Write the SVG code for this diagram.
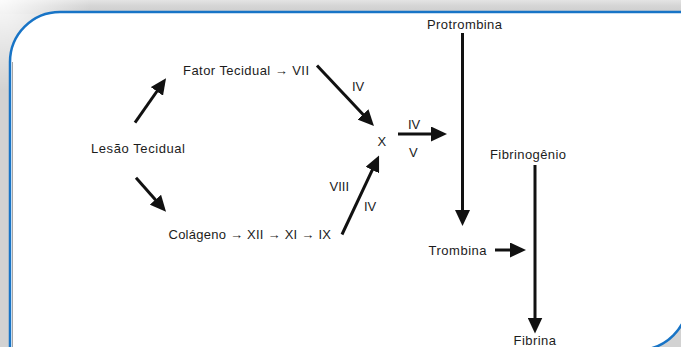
<svg xmlns="http://www.w3.org/2000/svg" width="681" height="347" viewBox="0 0 681 347">
  <style>
    .t { font-family: "Liberation Sans", Arial, sans-serif; font-size: 13px; fill: #1c1c1c; }
    .c { stroke: #111; stroke-width: 3; fill: none; marker-end: url(#ah); }
  </style>
  <defs>
    <marker id="ah" markerUnits="userSpaceOnUse" markerWidth="16" markerHeight="15" refX="6" refY="7.5" orient="auto">
      <path d="M0,0 L16,7.5 L0,15 z" fill="#111"/>
    </marker>
    <linearGradient id="topg" x1="0" y1="0" x2="0" y2="1">
      <stop offset="0" stop-color="#e4e4e4"/>
      <stop offset="0.4" stop-color="#d6d6d6"/>
      <stop offset="1" stop-color="#cbcbcb"/>
    </linearGradient>
    <radialGradient id="corner" cx="0" cy="0" r="90" gradientUnits="userSpaceOnUse">
      <stop offset="0" stop-color="#ffffff" stop-opacity="0.9"/>
      <stop offset="1" stop-color="#ffffff" stop-opacity="0"/>
    </radialGradient>
  </defs>

  <!-- frame -->
  <g id="frame">
    <rect x="0" y="0" width="681" height="347" fill="#d2d2d2"/>
    <rect x="0" y="0" width="681" height="14" fill="url(#topg)"/>
    <rect x="0" y="0" width="681" height="347" fill="url(#corner)"/>
    <path d="M10,360 V62 A50,50 0 0 1 60,12 H688 V300 A50,50 0 0 1 638,350 H10 Z" fill="#ffffff" stroke="#1874c6" stroke-width="2.5"/>
    <path d="M12.5,62 V347" stroke="#4a4a4a" stroke-width="1" opacity="0.5" fill="none"/>
  </g>

  <!-- connectors -->
  <g id="connectors">
    <line class="c" x1="135" y1="122.7" x2="160.3" y2="86.5"/>
    <line class="c" x1="136" y1="177.7" x2="159.4" y2="204.2"/>
    <line class="c" x1="317" y1="65.5" x2="367.1" y2="118.7"/>
    <line class="c" x1="342" y1="234.5" x2="374.8" y2="164.6"/>
    <line class="c" x1="398" y1="134" x2="437" y2="134"/>
    <line class="c" x1="462.5" y1="33" x2="462.5" y2="216"/>
    <line class="c" x1="535" y1="165" x2="535" y2="323.5"/>
    <line class="c" x1="495" y1="250" x2="516" y2="250"/>
  </g>

  <!-- nodes -->
  <g id="protrombina"><text class="t" x="427" y="28.5" textLength="75">Protrombina</text></g>
  <g id="fator"><text class="t" x="183" y="75" textLength="126">Fator Tecidual → VII</text></g>
  <g id="lesao"><text class="t" x="91" y="153.3" textLength="94">Lesão Tecidual</text></g>
  <g id="colageno"><text class="t" x="168.5" y="239" textLength="162.5">Colágeno → XII → XI → IX</text></g>
  <g id="x"><text class="t" x="377.5" y="146">X</text></g>
  <g id="fibrinogenio"><text class="t" x="490" y="159" textLength="76">Fibrinogênio</text></g>
  <g id="trombina"><text class="t" x="428.5" y="254.5" textLength="58">Trombina</text></g>
  <g id="fibrina"><text class="t" x="513.5" y="344.5" textLength="42.5">Fibrina</text></g>

  <!-- connector labels -->
  <g id="labels">
    <text class="t" x="352" y="90.5">IV</text>
    <text class="t" x="408" y="128.5">IV</text>
    <text class="t" x="409" y="156.5">V</text>
    <text class="t" x="329.5" y="191">VIII</text>
    <text class="t" x="364" y="211">IV</text>
  </g>
</svg>
